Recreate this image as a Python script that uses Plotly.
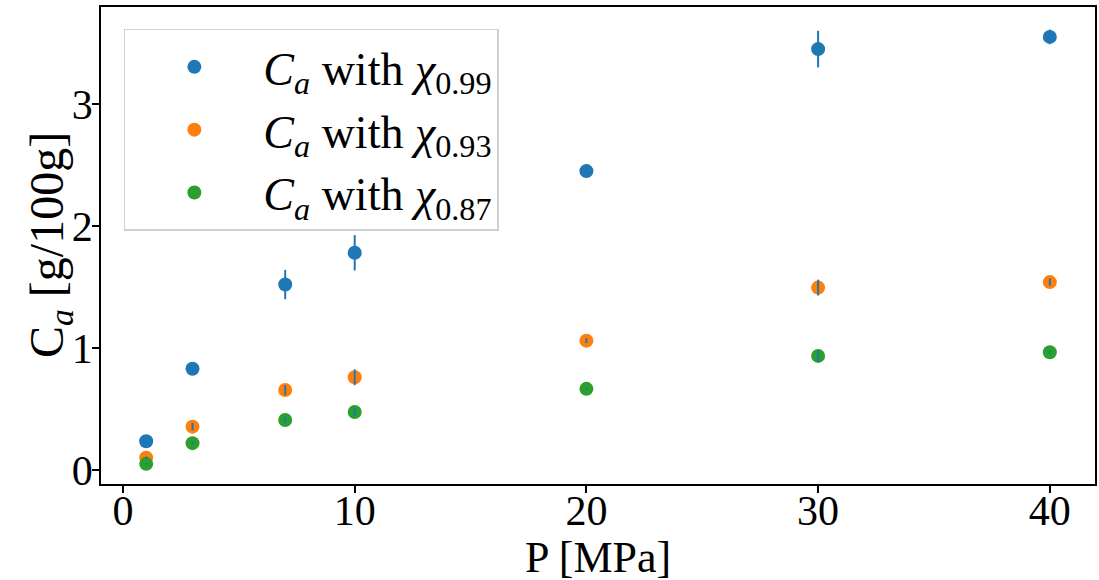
import plotly.graph_objects as go

P = [1, 3, 7, 10, 20, 30, 40]
ca_099 = [0.235, 0.83, 1.52, 1.78, 2.45, 3.45, 3.55]
err_099 = [0.01, 0.02, 0.12, 0.145, 0.02, 0.15, 0.06]
ca_093 = [0.10, 0.355, 0.655, 0.76, 1.06, 1.495, 1.54]
err_093 = [0.01, 0.03, 0.04, 0.065, 0.02, 0.065, 0.03]
ca_087 = [0.05, 0.22, 0.41, 0.475, 0.665, 0.935, 0.965]
err_087 = [0.005, 0.015, 0.025, 0.03, 0.01, 0.05, 0.015]

series = [
    ("0.99", ca_099, err_099, "#1f77b4"),
    ("0.93", ca_093, err_093, "#ff7f0e"),
    ("0.87", ca_087, err_087, "#2ca02c"),
]
ERR_COLOR = "#1f77b4"
FONT = "Liberation Serif"
W, H = 1099, 580
ML, MR, MT, MB = 101, 4, 7, 96

fig = go.Figure()
for lab, y, e, c in series:
    fig.add_trace(go.Scatter(
        x=P, y=y, mode="markers",
        marker=dict(color=c, size=14),
        name=f"<i>C</i><sub><i>a</i></sub> with <i>χ</i><sub>{lab}</sub>",
    ))
for lab, y, e, c in series:
    fig.add_trace(go.Scatter(
        x=P, y=y, mode="markers",
        marker=dict(color=c, size=1, opacity=0),
        error_y=dict(type="data", array=e, visible=True, color=ERR_COLOR,
                     thickness=2, width=0),
        showlegend=False, hoverinfo="skip",
    ))

axis_common = dict(
    showgrid=False, zeroline=False, showline=True, mirror=True,
    linecolor="black", linewidth=1.5, ticks="outside", ticklen=7,
    tickwidth=1.5, tickcolor="black", automargin=False,
    tickfont=dict(family=FONT, size=42, color="black"),
)
pw, ph = W - ML - MR, H - MT - MB
fig.update_layout(
    width=W, height=H,
    margin=dict(l=ML, r=MR, t=MT, b=MB),
    plot_bgcolor="white", paper_bgcolor="white",
    font=dict(family=FONT, color="black"),
    xaxis=dict(range=[-0.95, 41.95], tickvals=[0, 10, 20, 30, 40],
               ticklabelstandoff=-18, **axis_common),
    yaxis=dict(range=[-0.115, 3.795], tickvals=[0, 1, 2, 3],
               ticklabelstandoff=-9, **axis_common),
    legend=dict(x=0.023, y=0.954, xanchor="left", yanchor="top",
                bgcolor="rgba(255,255,255,0.8)", bordercolor="#d0d0d0", borderwidth=1.5,
                font=dict(family=FONT, size=46, color="black"),
                itemwidth=128),
    showlegend=True,
    annotations=[
        dict(text="P [MPa]", xref="paper", yref="paper",
             x=(598 - ML) / pw, y=-(557 - (MT + ph)) / ph,
             xanchor="center", yanchor="middle", showarrow=False,
             font=dict(family=FONT, size=44, color="black")),
        dict(text="C<sub><i>a</i></sub> [g/100g]", xref="paper", yref="paper",
             x=-(ML - 50) / pw, y=1 - (245 - MT) / ph, textangle=-90,
             xanchor="center", yanchor="middle", showarrow=False,
             font=dict(family=FONT, size=48, color="black")),
    ],
)

fig.write_html("out.html")
